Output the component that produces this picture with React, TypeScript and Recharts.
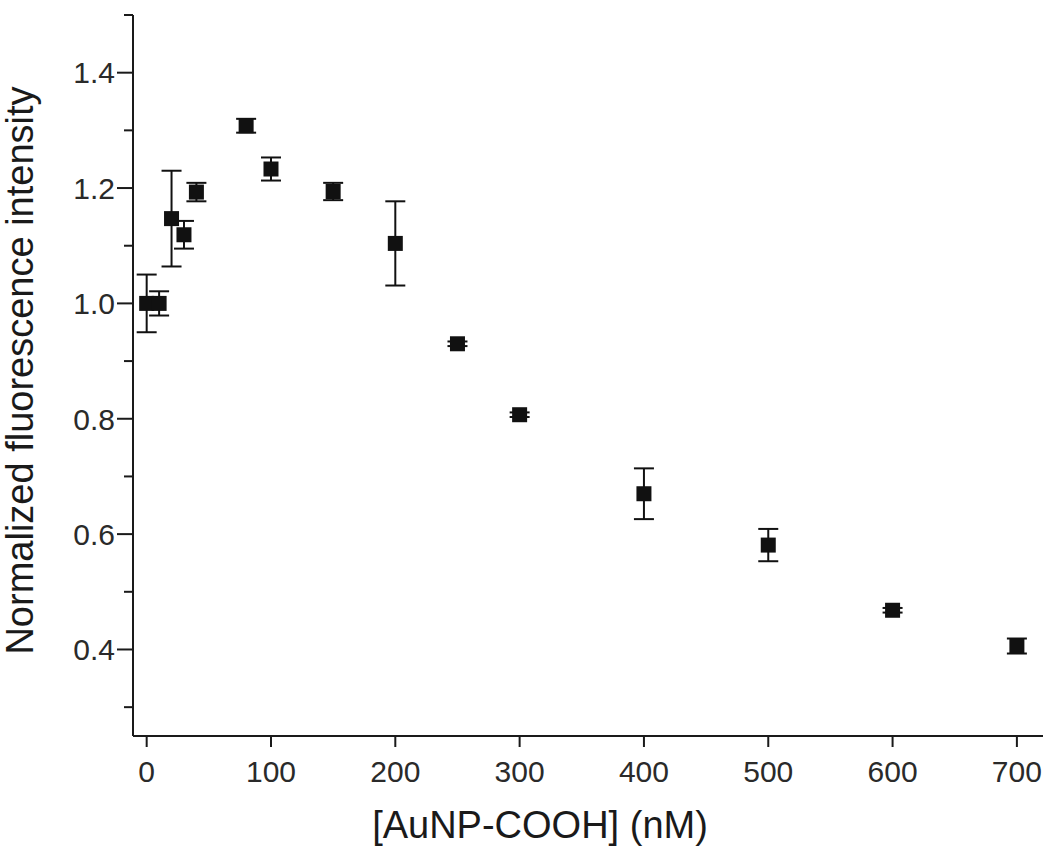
import { ErrorBar, Label, Scatter, ScatterChart, XAxis, YAxis } from "recharts"

const concentration = [0, 10, 20, 30, 40, 80, 100, 150, 200, 250, 300, 400, 500, 600, 700]
const intensity = [1.0, 1.0, 1.147, 1.119, 1.193, 1.308, 1.233, 1.194, 1.104, 0.93, 0.807, 0.67, 0.581, 0.468, 0.406]
const intensityErr = [0.05, 0.021, 0.083, 0.024, 0.016, 0.012, 0.02, 0.015, 0.073, 0.004, 0.004, 0.044, 0.028, 0.004, 0.013]

const xTicks = [0, 100, 200, 300, 400, 500, 600, 700]
const yTicks = [0.3, 0.4, 0.5, 0.6, 0.7, 0.8, 0.9, 1.0, 1.1, 1.2, 1.3, 1.4, 1.5]

const data = concentration.map((x, i) => ({ x, y: intensity[i], err: intensityErr[i] }))

const FONT = '"Liberation Sans", Arial, sans-serif'
const INK = "#1a1a1a"

function XTick({ x, y, payload }: any) {
  return (
    <g>
      <line x1={x} x2={x} y1={y} y2={y + 11} stroke={INK} strokeWidth={2} />
      <text x={x} y={y + 46} textAnchor="middle" fontSize={30} fontFamily={FONT} fill="#2a2a2a">
        {payload.value}
      </text>
    </g>
  )
}

function YTick({ x, y, payload }: any) {
  const v = payload.value
  const major = Math.round(v * 10) % 2 === 0
  return (
    <g>
      <line x1={x - (major ? 16 : 9)} x2={x} y1={y} y2={y} stroke={INK} strokeWidth={2} />
      {major && (
        <text x={x - 18} y={y} dy="0.36em" textAnchor="end" fontSize={30} fontFamily={FONT} fill="#2a2a2a">
          {v.toFixed(1)}
        </text>
      )}
    </g>
  )
}

function XTitle({ viewBox }: any) {
  const vb = viewBox || { x: 133, y: 736, width: 910, height: 100 }
  return (
    <text x={vb.x + vb.width / 2 - 48} y={vb.y + 102} textAnchor="middle" fontSize={38} fontFamily={FONT} fill={INK}>
      [AuNP-COOH] (nM)
    </text>
  )
}

function YTitle({ viewBox }: any) {
  const vb = viewBox || { x: 0, y: 15, width: 133, height: 721 }
  const cx = vb.x + 33
  const cy = vb.y + vb.height / 2 - 5
  return (
    <text
      x={cx}
      y={cy}
      transform={`rotate(-90, ${cx}, ${cy})`}
      textAnchor="middle"
      fontSize={38}
      fontFamily={FONT}
      fill={INK}
    >
      Normalized fluorescence intensity
    </text>
  )
}

function Square({ cx, cy }: any) {
  return <rect x={cx - 7.5} y={cy - 7.5} width={15} height={15} fill="#111" />
}

export default function App() {
  return (
    <div style={{ position: "absolute", left: 0, top: 0, background: "#fff" }}>
      <ScatterChart width={1050} height={853} margin={{ top: 15, right: 7, bottom: 17, left: 0 }}>
        <XAxis
          type="number"
          dataKey="x"
          domain={[-11, 721]}
          ticks={xTicks}
          interval={0}
          height={100}
          tickSize={0}
          tickMargin={0}
          tickLine={false}
          axisLine={{ stroke: INK, strokeWidth: 2 }}
          tick={<XTick />}
          allowDataOverflow
        >
          <Label content={<XTitle />} />
        </XAxis>
        <YAxis
          type="number"
          dataKey="y"
          domain={[0.25, 1.5]}
          ticks={yTicks}
          interval={0}
          width={133}
          tickSize={0}
          tickMargin={0}
          tickLine={false}
          axisLine={{ stroke: INK, strokeWidth: 2 }}
          tick={<YTick />}
          allowDataOverflow
        >
          <Label content={<YTitle />} />
        </YAxis>
        <Scatter data={data} shape={<Square />} isAnimationActive={false}>
          <ErrorBar dataKey="err" direction="y" width={10} strokeWidth={2} stroke="#111" />
        </Scatter>
      </ScatterChart>
    </div>
  )
}
